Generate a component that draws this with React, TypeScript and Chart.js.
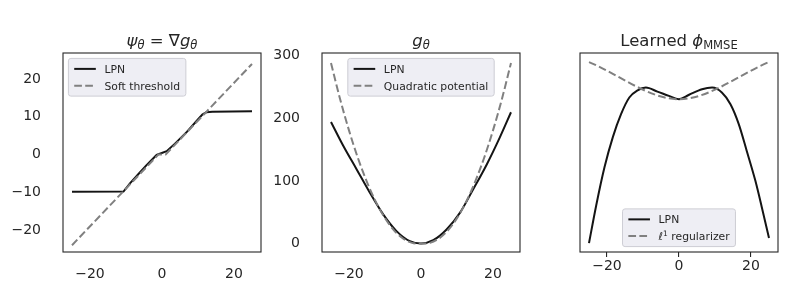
import React, { useEffect, useRef } from 'react';
import { Chart, registerables } from 'chart.js';

Chart.register(...registerables);

// ---------------- data ----------------
const xTicks = [-20, 0, 20];
const psiYTicks = [-20, -10, 0, 10, 20];
const gYTicks = [0, 100, 200, 300];

// Panel 1: psi = grad g
const psiLpnX = [-25, -10.7, -8.9, -6.6, -4.3, -1.5, 1.3, 3.6, 6.9, 9.6, 11.2, 12.3, 14.0, 25];
const psiLpnY = [-9.85, -9.8, -7.6, -5.2, -2.8, -0.1, 0.9, 2.9, 6.0, 8.9, 10.6, 11.2, 11.35, 11.45];
const softX = [-25, -1, 1, 25];
const softY = [-24, 0, 0, 24];

// Panel 2: g
const gLpnX = [-25, -21.6, -17.9, -14.2, -10.5, -6.8, -3.1, 0, 3.4, 7.1, 10.8, 14.5, 18.3, 21.9, 25];
const gLpnY = [194, 156, 118.6, 81, 46.5, 19.8, 3.7, 0, 5.3, 22.4, 49, 86.5, 126.6, 169.4, 209.5];
const quadX = [-25, -22.5, -20, -17.5, -15, -12.5, -10, -7.5, -5, -2.5, -1, 1, 2.5, 5, 7.5, 10, 12.5, 15, 17.5, 20, 22.5, 25];
const quadY = [288, 231.1, 180.5, 136.1, 98, 66.1, 40.5, 21.1, 8, 1.1, 0, 0, 1.1, 8, 21.1, 40.5, 66.1, 98, 136.1, 180.5, 231.1, 288];

// Panel 3: learned phi
const phiLpnX = [-25, -23, -20.7, -18.4, -16.1, -13.8, -11.5, -9.2, -6, -2.8, 0, 2.8, 6.4, 9.2, 11.9, 14.3, 16.6, 18.8, 21.2, 23, 25];
const phiLpnY = [-96.9, -71.6, -45.9, -25.7, -10.1, 1.1, 6.0, 7.8, 5.1, 2.2, 0, 3.0, 6.7, 7.8, 4.5, -3.4, -16.8, -34.7, -54.8, -72.7, -93.5];
const l1X = [-25, 0, 25];
const l1Y = [25, 0, 25];

// ---------------- styling ----------------
const FONT = '"DejaVu Sans", sans-serif';
const TEXT = '#262626';
const LPN_COLOR = '#141414';
const DASH_COLOR = '#808080';
const TICK_SIZE = 14;
const TITLE_SIZE = 16.5;
const LEG_SIZE = 10.8;

type Seg = { t: string; it?: boolean; sub?: boolean; sup?: boolean };

function layoutRich(ctx: CanvasRenderingContext2D, segs: Seg[], size: number) {
  const parts = segs.map((s) => {
    const sz = s.sub || s.sup ? size * 0.7 : size;
    const font = `${s.it ? 'italic ' : ''}${sz}px ${FONT}`;
    ctx.font = font;
    const w = ctx.measureText(s.t).width;
    const dy = s.sub ? size * 0.2 : s.sup ? -size * 0.4 : 0;
    return { t: s.t, font, w, dy };
  });
  const total = parts.reduce((a, p) => a + p.w, 0);
  return { parts, total };
}

function drawRich(ctx: CanvasRenderingContext2D, segs: Seg[], x: number, y: number, size: number, center: boolean) {
  const { parts, total } = layoutRich(ctx, segs, size);
  let cx = center ? x - total / 2 : x;
  ctx.textAlign = 'left';
  ctx.textBaseline = 'alphabetic';
  ctx.fillStyle = TEXT;
  for (const p of parts) {
    ctx.font = p.font;
    ctx.fillText(p.t, cx, y + p.dy);
    cx += p.w;
  }
}

const framePlugin = {
  id: 'mplFrame',
  afterDraw(chart: any) {
    const { ctx, chartArea: a } = chart;
    ctx.save();
    ctx.strokeStyle = TEXT;
    ctx.lineWidth = 1.1;
    ctx.strokeRect(a.left, a.top, a.right - a.left, a.bottom - a.top);
    ctx.restore();
  },
};

const titlePlugin = {
  id: 'mplTitle',
  afterDraw(chart: any, _args: any, opts: any) {
    const { ctx, chartArea: a } = chart;
    ctx.save();
    drawRich(ctx, opts.segs, (a.left + a.right) / 2, 46, TITLE_SIZE, true);
    ctx.restore();
  },
};

const legendPlugin = {
  id: 'mplLegend',
  afterDraw(chart: any, _args: any, opts: any) {
    const { ctx, chartArea: a } = chart;
    const fs = LEG_SIZE;
    const pad = 0.4 * fs;
    const hl = 2 * fs;
    const htp = 0.8 * fs;
    const rowH = 1.05 * fs;
    const ls = 0.5 * fs;
    const bap = 0.5 * fs;
    ctx.save();
    const items = opts.items as { segs: Seg[]; dashed: boolean }[];
    const widths = items.map((it) => layoutRich(ctx, it.segs, fs).total);
    const w = 2 * pad + hl + htp + Math.max(...widths) + 3;
    const h = 2 * pad + items.length * rowH + (items.length - 1) * ls + 1;
    let x = a.left + bap;
    let y = a.top + bap;
    if (opts.loc === 'upper center') x = (a.left + a.right) / 2 - w / 2;
    if (opts.loc === 'lower center') {
      x = (a.left + a.right) / 2 - w / 2;
      y = a.bottom - bap - h;
    }
    const r = 2.5;
    ctx.beginPath();
    ctx.moveTo(x + r, y);
    ctx.lineTo(x + w - r, y);
    ctx.arcTo(x + w, y, x + w, y + r, r);
    ctx.lineTo(x + w, y + h - r);
    ctx.arcTo(x + w, y + h, x + w - r, y + h, r);
    ctx.lineTo(x + r, y + h);
    ctx.arcTo(x, y + h, x, y + h - r, r);
    ctx.lineTo(x, y + r);
    ctx.arcTo(x, y, x + r, y, r);
    ctx.closePath();
    ctx.fillStyle = 'rgba(236,236,243,0.9)';
    ctx.fill();
    ctx.strokeStyle = 'rgba(205,205,212,1)';
    ctx.lineWidth = 1;
    ctx.stroke();
    items.forEach((it, i) => {
      const cy = y + pad + 0.5 + rowH / 2 + i * (rowH + ls);
      const lx = x + pad + 1.5;
      ctx.beginPath();
      ctx.moveTo(lx, cy);
      ctx.lineTo(lx + hl, cy);
      ctx.lineWidth = 2;
      ctx.strokeStyle = it.dashed ? DASH_COLOR : LPN_COLOR;
      ctx.setLineDash(it.dashed ? [7.7, 3.3] : []);
      ctx.stroke();
      ctx.setLineDash([]);
      drawRich(ctx, it.segs, lx + hl + htp, cy + 0.37 * fs, fs, false);
    });
    ctx.restore();
  },
};

const fmt = (v: any) => {
  const n = Number(v);
  return n < 0 ? '\u2212' + Math.abs(n) : String(n);
};

function pts(xs: number[], ys: number[]) {
  return xs.map((x, i) => ({ x, y: ys[i] }));
}

type PanelDef = {
  left: number;
  width: number;
  padLeft: number;
  yWidth: number;
  padRight: number;
  lpn: { x: number; y: number }[];
  ref: { x: number; y: number }[];
  smooth: boolean;
  yMin: number;
  yMax: number;
  yTicks: number[] | null;
  xTickMarks: boolean;
  title: Seg[];
  legendLoc: string;
  refLabel: Seg[];
  refName: string;
};

const PANELS: PanelDef[] = [
  {
    left: 0, width: 270, padLeft: 0, yWidth: 63, padRight: 9,
    lpn: pts(psiLpnX, psiLpnY), ref: pts(softX, softY), smooth: false,
    yMin: -25.8, yMax: 26.9, yTicks: psiYTicks, xTickMarks: false,
    title: [{ t: 'ψ', it: true }, { t: 'θ', it: true, sub: true }, { t: ' = ' }, { t: '∇' }, { t: 'g', it: true }, { t: 'θ', it: true, sub: true }],
    legendLoc: 'upper left', refLabel: [{ t: 'Soft threshold' }], refName: 'Soft threshold',
  },
  {
    left: 270, width: 262, padLeft: 0, yWidth: 52, padRight: 12,
    lpn: pts(gLpnX, gLpnY), ref: pts(quadX, quadY), smooth: true,
    yMin: -13.5, yMax: 304, yTicks: gYTicks, xTickMarks: false,
    title: [{ t: 'g', it: true }, { t: 'θ', it: true, sub: true }],
    legendLoc: 'upper center', refLabel: [{ t: 'Quadratic potential' }], refName: 'Quadratic potential',
  },
  {
    left: 532, width: 265, padLeft: 48, yWidth: 0, padRight: 19,
    lpn: pts(phiLpnX, phiLpnY), ref: pts(l1X, l1Y), smooth: true,
    yMin: -102.9, yMax: 31.1, yTicks: null, xTickMarks: true,
    title: [{ t: 'Learned ' }, { t: 'ϕ', it: true }, { t: 'MMSE', sub: true }],
    legendLoc: 'lower center', refLabel: [{ t: 'ℓ', it: true }, { t: '1', sup: true }, { t: ' regularizer' }], refName: 'l1 regularizer',
  },
];

function Panel({ def }: { def: PanelDef }) {
  const ref = useRef<HTMLCanvasElement | null>(null);
  useEffect(() => {
    if (!ref.current) return;
    const tickFont = { family: FONT, size: TICK_SIZE };
    const chart = new Chart(ref.current, {
      type: 'line',
      data: {
        datasets: [
          {
            label: 'LPN',
            data: def.lpn,
            borderColor: LPN_COLOR,
            borderWidth: 2,
            pointRadius: 0,
            fill: false,
            tension: def.smooth ? 0.4 : 0,
            cubicInterpolationMode: def.smooth ? 'monotone' : 'default',
            order: 1,
          } as any,
          {
            label: def.refName,
            data: def.ref,
            borderColor: DASH_COLOR,
            borderWidth: 2,
            borderDash: [7.7, 3.3],
            borderCapStyle: 'butt',
            pointRadius: 0,
            fill: false,
            tension: def.smooth ? 0.4 : 0,
            cubicInterpolationMode: def.smooth ? 'monotone' : 'default',
            order: 0,
          } as any,
        ],
      },
      options: {
        responsive: false,
        animation: false,
        devicePixelRatio: 1,
        layout: { padding: { left: def.padLeft, right: def.padRight, top: 53, bottom: 0 } },
        scales: {
          x: {
            type: 'linear',
            min: -27.5,
            max: 27.5,
            afterBuildTicks: (axis: any) => {
              axis.ticks = xTicks.map((v) => ({ value: v }));
            },
            afterFit: (axis: any) => {
              axis.height = 47;
            },
            grid: def.xTickMarks
              ? { display: true, drawOnChartArea: false, drawTicks: true, tickLength: 5, color: TEXT, lineWidth: 1.1 }
              : { display: false },
            border: { display: false },
            ticks: { font: tickFont, color: TEXT, padding: def.xTickMarks ? 1 : 6, callback: fmt, maxRotation: 0, autoSkip: false },
          },
          y: {
            type: 'linear',
            display: def.yTicks !== null,
            min: def.yMin,
            max: def.yMax,
            afterBuildTicks: (axis: any) => {
              if (def.yTicks) axis.ticks = def.yTicks.map((v) => ({ value: v }));
            },
            afterFit: (axis: any) => {
              axis.width = def.yWidth;
            },
            grid: { display: false },
            border: { display: false },
            ticks: { font: tickFont, color: TEXT, padding: 14, callback: fmt, autoSkip: false },
          },
        },
        plugins: {
          legend: { display: false },
          tooltip: { enabled: false },
          mplTitle: { segs: def.title },
          mplLegend: {
            loc: def.legendLoc,
            items: [
              { segs: [{ t: 'LPN' }], dashed: false },
              { segs: def.refLabel, dashed: true },
            ],
          },
        } as any,
      },
      plugins: [framePlugin, titlePlugin, legendPlugin],
    } as any);
    return () => chart.destroy();
  }, [def]);
  return (
    <canvas
      ref={ref}
      width={def.width}
      height={299}
      style={{ position: 'absolute', left: def.left, top: 0, width: def.width, height: 299 }}
    />
  );
}

export default function App() {
  useEffect(() => {
    document.body.style.margin = '0';
    document.body.style.background = '#ffffff';
  }, []);
  return (
    <div style={{ position: 'relative', width: 797, height: 299, background: '#ffffff', overflow: 'hidden' }}>
      {PANELS.map((p, i) => (
        <Panel key={i} def={p} />
      ))}
    </div>
  );
}
